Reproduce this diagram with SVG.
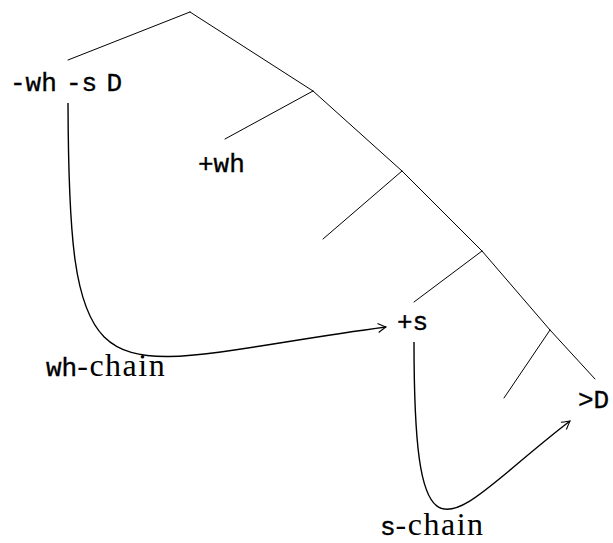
<svg xmlns="http://www.w3.org/2000/svg" width="613" height="543" viewBox="0 0 613 543">
<style>
.edge{stroke:#000;stroke-width:1;fill:none;stroke-linecap:round}
.chain{stroke:#000;stroke-width:1.4;fill:none}
.tt{font-family:"Liberation Mono","DejaVu Sans Mono",monospace;font-size:26px;fill:#000;stroke:#000;stroke-width:0.35}
.rm{font-family:"Liberation Serif","DejaVu Serif",serif;font-size:32px;fill:#000;letter-spacing:1.5px}
</style>
<defs>
<marker id="arr" viewBox="-10 -6 12 12" refX="0" refY="0" markerWidth="12" markerHeight="12" markerUnits="userSpaceOnUse" orient="auto">
<path d="M-8,-4.5 Q-2,-1 0,0 Q-2,1 -8,4.5" fill="none" stroke="#000" stroke-width="1.1"/>
</marker>
</defs>
<g id="connectors">
<g id="tree">
<line class="edge" x1="190" y1="12" x2="68" y2="60"/>
<line class="edge" x1="190" y1="12" x2="313" y2="91"/>
<line class="edge" x1="313" y1="91" x2="225" y2="139"/>
<line class="edge" x1="313" y1="91" x2="402" y2="171"/>
<line class="edge" x1="402" y1="171" x2="323" y2="239"/>
<line class="edge" x1="402" y1="171" x2="482" y2="251"/>
<line class="edge" x1="482" y1="251" x2="414" y2="302"/>
<line class="edge" x1="482" y1="251" x2="550" y2="330"/>
<line class="edge" x1="550" y1="330" x2="504" y2="398"/>
<line class="edge" x1="550" y1="330" x2="595" y2="379"/>
</g>
<path id="wh-chain" class="chain" d="M68,103 C69,420 100,365 386,327" marker-end="url(#arr)"/>
<path id="s-chain" class="chain" d="M414,342 C414,592 451,512 570,421" marker-end="url(#arr)"/>
</g>
<g id="node-root-left"><text class="tt" x="10" y="91" style="word-spacing:-6.4px">-wh -s D</text></g>
<g id="node-plus-wh"><text class="tt" x="198" y="172">+wh</text></g>
<g id="node-plus-s"><text class="tt" x="397" y="330">+s</text></g>
<g id="node-gt-D"><text class="tt" x="578" y="408">&gt;D</text></g>
<g id="label-wh-chain"><text x="46" y="376"><tspan class="tt">wh</tspan><tspan class="rm">-chain</tspan></text></g>
<g id="label-s-chain"><text x="380" y="535"><tspan class="tt">s</tspan><tspan class="rm">-chain</tspan></text></g>
</svg>
